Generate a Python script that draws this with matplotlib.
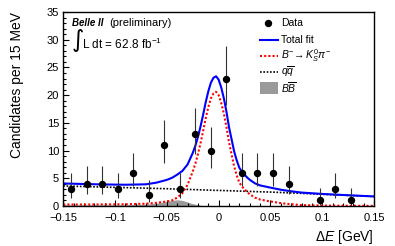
import numpy as np
import matplotlib
matplotlib.use("Agg")
import matplotlib.pyplot as plt
from matplotlib.lines import Line2D
from matplotlib.patches import Rectangle
from matplotlib.ticker import MultipleLocator

plt.rcParams['font.family'] = ['Liberation Sans', 'DejaVu Sans']
plt.rcParams['mathtext.fontset'] = 'custom'
plt.rcParams['mathtext.rm'] = 'Liberation Sans'
plt.rcParams['mathtext.it'] = 'Liberation Sans:italic'
plt.rcParams['mathtext.bf'] = 'Liberation Sans:bold'

# ---- data (15 MeV bins) ----
bin_centers = [-0.1425, -0.1275, -0.1125, -0.0975, -0.0825, -0.0675, -0.0525, -0.0375,
               -0.0225, -0.0075, 0.0075, 0.0225, 0.0375, 0.0525, 0.0675, 0.0825,
               0.0975, 0.1125, 0.1275, 0.1425]
counts = [3, 4, 4, 3, 6, 2, 11, 3, 13, 10, 23, 6, 6, 6, 4, 0, 1, 3, 1, 0]
err_lo = [1.63, 1.91, 1.91, 1.63, 2.38, 1.29, 3.27, 1.63, 3.56, 3.11, 4.75, 2.38, 2.38, 2.38,
          1.91, 0.0, 0.83, 1.63, 0.83, 0.0]
err_hi = [2.92, 3.16, 3.16, 2.92, 3.58, 2.64, 4.42, 2.92, 4.70, 4.26, 5.84, 3.58, 3.58, 3.58,
          3.16, 1.84, 2.30, 2.92, 2.30, 1.84]

# ---- fit components ----
fit_x = [-0.15, -0.13, -0.11, -0.09, -0.07, -0.06, -0.05, -0.045, -0.04, -0.035,
         -0.03, -0.0275, -0.025, -0.0225, -0.02, -0.0175, -0.015, -0.0125, -0.01, -0.0075,
         -0.005, -0.0025, 0.0, 0.0025, 0.005, 0.0075, 0.01, 0.0125, 0.015, 0.0175,
         0.02, 0.0225, 0.025, 0.0275, 0.03, 0.035, 0.04, 0.05, 0.06, 0.07,
         0.08, 0.1, 0.12, 0.15]
signal = [0.25, 0.25, 0.27, 0.3, 0.4, 0.55, 0.8, 1.0, 1.5, 2.3,
          3.8, 5.0, 6.2, 7.6, 9.3, 11.3, 13.5, 15.8, 17.8, 19.4,
          20.3, 20.6, 20.0, 18.6, 16.7, 14.3, 11.5, 9.3, 7.1, 5.5,
          4.2, 3.5, 3.0, 2.5, 2.1, 1.5, 1.15, 0.8, 0.5, 0.3,
          0.15, 0.06, 0.03, 0.01]
qqbar = [3.6, 3.5, 3.4, 3.3, 3.2, 3.15, 3.1, 3.07, 3.04, 3.01,
         2.98, 2.96, 2.95, 2.93, 2.92, 2.9, 2.88, 2.87, 2.85, 2.84,
         2.82, 2.81, 2.8, 2.78, 2.77, 2.75, 2.74, 2.72, 2.71, 2.69,
         2.68, 2.66, 2.65, 2.63, 2.62, 2.58, 2.55, 2.5, 2.42, 2.34,
         2.26, 2.1, 1.94, 1.7]
bbbar = [0.2, 0.2, 0.2, 0.22, 0.3, 0.5, 0.8, 1.0, 1.1, 1.0,
         0.7, 0.55, 0.4, 0.3, 0.2, 0.12, 0.05, 0.02, 0.0, 0.0,
         0.0, 0.0, 0.0, 0.0, 0.0, 0.0, 0.0, 0.0, 0.0, 0.0,
         0.0, 0.0, 0.0, 0.0, 0.0, 0.0, 0.0, 0.0, 0.0, 0.0,
         0.0, 0.0, 0.0, 0.0]

x_ticks = [-0.15, -0.1, -0.05, 0.0, 0.05, 0.1, 0.15]
x_tick_labels = ['\u22120.15', '\u22120.1', '\u22120.05', '0', '0.05', '0.1', '0.15']
y_ticks = [0, 5, 10, 15, 20, 25, 30, 35]

legend_labels = ['Data', 'Total fit', r'$B^{-}\!\rightarrow K^{0}_{S}\pi^{-}$',
                 r'$q\overline{q}$', r'$B\overline{B}$']

fit_x = np.array(fit_x)
total = np.array(signal) + np.array(qqbar) + np.array(bbbar)

fig = plt.figure(figsize=(3.95, 2.46), dpi=100)
ax = fig.add_axes([0.16, 0.163, 0.787, 0.788])

ax.fill_between(fit_x, 0, bbbar, color='#9a9a9a', lw=0)
ax.plot(fit_x, qqbar, color='black', lw=1.2, ls=(0, (1, 1)))
ax.plot(fit_x, signal, color='red', lw=1.5, ls=(0, (1, 1)))
ax.plot(fit_x, total, color='blue', lw=1.5)

bc = np.array(bin_centers)
cn = np.array(counts)
m = cn > 0
ax.errorbar(bc[m], cn[m], yerr=[np.array(err_lo)[m], np.array(err_hi)[m]],
            fmt='o', color='black', ms=4.3, ecolor='#333333', elinewidth=0.8, capsize=0)

ax.set_xlim(-0.15, 0.15)
ax.set_ylim(0, 35)
ax.set_xticks(x_ticks, x_tick_labels)
ax.set_yticks(y_ticks)
ax.xaxis.set_minor_locator(MultipleLocator(0.01))
ax.yaxis.set_minor_locator(MultipleLocator(1))
ax.tick_params(which='both', direction='in', top=False, right=False, labelsize=8, width=0.8)
ax.tick_params(axis='x', which='major', length=4.5, pad=5)
ax.tick_params(axis='y', which='major', length=4.5, pad=3)
ax.tick_params(which='minor', length=2.2)
for s in ax.spines.values():
    s.set_linewidth(1.0)

ax.set_ylabel('Candidates per 15 MeV', fontsize=10, loc='top')
ax.yaxis.set_label_coords(-0.125, 1.0)
ax.set_xlabel(r'$\Delta E$ [GeV]', fontsize=10, loc='right', labelpad=4)

ax.text(0.029, 0.943, 'Belle II', transform=ax.transAxes, fontsize=7,
        fontweight='bold', style='italic', va='center')
ax.text(0.148, 0.943, '(preliminary)', transform=ax.transAxes, fontsize=8, va='center')
ax.text(0.026, 0.855, '\u222b', transform=ax.transAxes, fontsize=17, va='center',
        family='DejaVu Sans')
ax.text(0.061, 0.835, r'L dt = 62.8 fb$^{-1}$', transform=ax.transAxes, fontsize=8.5,
        va='center')

# hand-placed legend (ROOT style)
def ax_x(px):
    return (px - 63) / 311.0

def ax_y(py):
    return 1 - (py - 12) / 194.0

rows = [23, 39.5, 56, 72, 88]
h0, h1, tx = ax_x(260), ax_x(278), ax_x(281)
ax.plot([ax_x(268)], [ax_y(rows[0])], 'o', color='black', ms=4.3, transform=ax.transAxes)
ax.add_line(Line2D([h0, h1], [ax_y(rows[1])] * 2, color='blue', lw=1.5, transform=ax.transAxes))
ax.add_line(Line2D([h0, h1], [ax_y(rows[2])] * 2, color='red', lw=1.5, ls=(0, (1, 1)),
                   transform=ax.transAxes))
ax.add_line(Line2D([h0, h1], [ax_y(rows[3])] * 2, color='black', lw=1.2, ls=(0, (1, 1)),
                   transform=ax.transAxes))
ax.add_patch(Rectangle((h0, ax_y(rows[4] + 6)), h1 - h0, ax_y(rows[4] - 6) - ax_y(rows[4] + 6),
                       facecolor='#9a9a9a', edgecolor='none', transform=ax.transAxes))
for r, lab in zip(rows, legend_labels):
    ax.text(tx, ax_y(r), lab, transform=ax.transAxes, fontsize=7.5, va='center')

fig.savefig('out.png', dpi=100)
